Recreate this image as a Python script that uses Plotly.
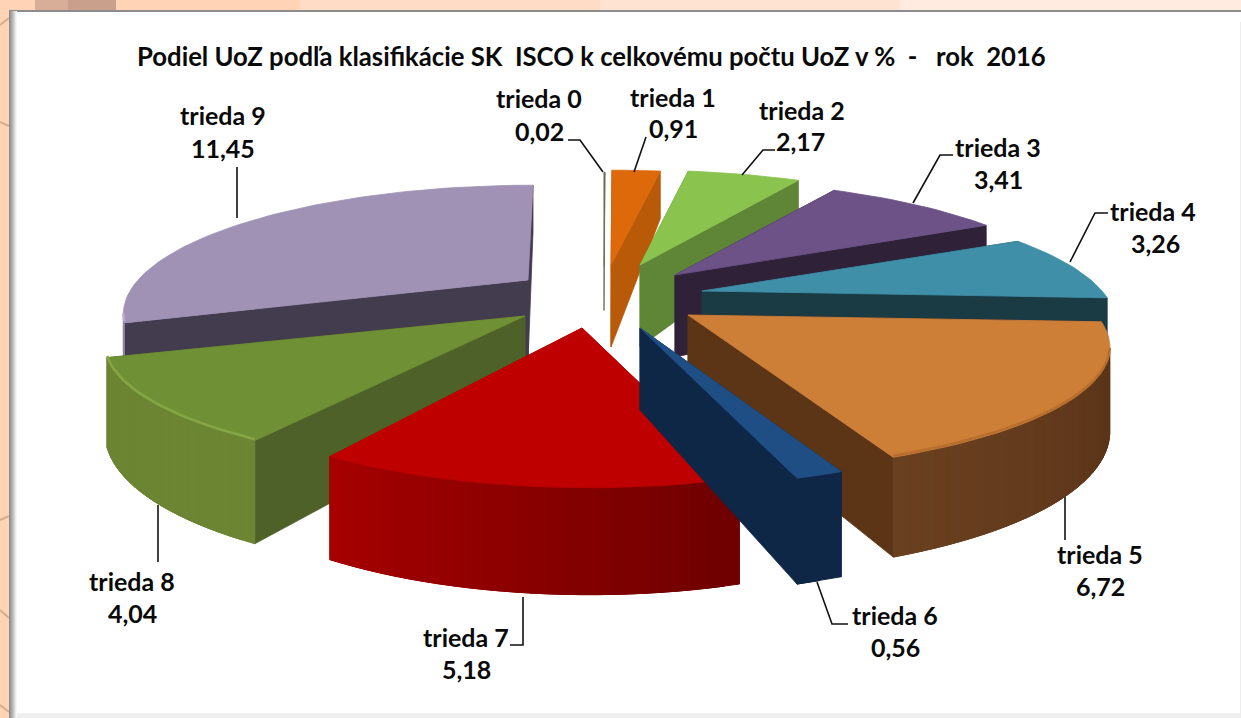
import numpy as np
import plotly.graph_objects as go

classes = ["trieda 0", "trieda 1", "trieda 2", "trieda 3", "trieda 4", "trieda 5", "trieda 6", "trieda 7", "trieda 8", "trieda 9"]
values = [0.02, 0.91, 2.17, 3.41, 3.26, 6.72, 0.56, 5.18, 4.04, 11.45]
top_colors = ["#6A6A55", "#DD690A", "#8BC34F", "#6C5286", "#3F8FA8", "#CD7F38", "#1F4E85", "#BE0000", "#6F9035", "#A092B5"]
wall_colors = ["#55553F", "#B85A08", "#5F8537", "#2E2138", "#1A3A44", "#5C3517", "#0F2747", "#A00000", "#4D6128", "#433C4F"]
rim_a = ["#55553F", "#B85A08", "#5F8537", "#2E2138", "#1A3A44", "#5A3318", "#0F2747", "#6E0000", "#6B8533", "#8F82A6"]
rim_b = ["#55553F", "#B85A08", "#5F8537", "#2E2138", "#1A3A44", "#6A4020", "#0F2747", "#A80000", "#6B8533", "#8F82A6"]
bevel_colors = [None, None, None, None, None, "#B86E2C", None, None, "#86A545", "#B5AAC8"]

# Explosion position of each slice's tip, and its shape factors
tip_x = [604, 611, 640, 675, 702, 688, 640, 582, 525, 528]
tip_y = [267, 265, 265, 275, 291, 315, 328, 328, 316, 280]
x_scale = [1, 1, 0.98, 0.985, 1, 1.02, 1, 0.953, 1.02, 0.975]
y_scale = [1, 1, 1, 1, 1, 0.99, 1, 1, 0.97, 1]
wall_scale = [0.53, 1, 1, 1, 1, 0.95, 1, 1, 1, 1]
skew = [0, 0, 0, 0, 0, 0, 0, -8, -8, 5]
draw_order = [0, 1, 2, 9, 3, 4, 8, 5, 7, 6]

label_x = [539, 673, 802, 998, 1153, 1100, 895, 466, 132, 223]
label_y = [98, 97, 110, 147, 211, 554, 615, 637, 581, 115]
value_x = [539, 673, 800, 998, 1155, 1100, 895, 466, 132, 223]
value_y = [131, 128, 141, 179, 243, 586, 647, 669, 613, 148]

title_text = "Podiel UoZ podľa klasifikácie SK\u00a0\u00a0ISCO k celkovému počtu UoZ v %\u00a0\u00a0-\u00a0\u00a0\u00a0rok\u00a0\u00a02016"

leader_x = [[568, 580, 603], [646, 634], [775, 763, 742], [953, 940, 913], [1108, 1095, 1070],
            [1065, 1065], [848, 832, 817], [510, 523, 523], [158, 158], [237, 237]]
leader_y = [[140, 140, 172], [137, 172], [150, 150, 175], [155, 155, 203], [213, 213, 262],
            [540, 497], [624, 624, 582], [645, 645, 597], [562, 505], [167, 218]]

PERSP = 0.255
BX = 400
BY = 119
FONT = "Lato, 'Open Sans', sans-serif"
FONT_SIZE = 25
TITLE_SIZE = 25.7


def project(i, theta):
    u, v = np.sin(theta), np.cos(theta)
    s = 1 / (1 + PERSP * v)
    return tip_x[i] + BX * x_scale[i] * u * s + skew[i] * v, tip_y[i] - BY * y_scale[i] * v * s, v


def wall_h(i, v):
    return wall_scale[i] * np.interp(v, [-1, 0, 1], [107, 82, 47])


def mix(c1, c2, t):
    a = [int(c1[k:k + 2], 16) for k in (1, 3, 5)]
    b = [int(c2[k:k + 2], 16) for k in (1, 3, 5)]
    return "rgb(%d,%d,%d)" % tuple(round(x + (y - x) * t) for x, y in zip(a, b))


def poly(fig, xs, ys, color, lw=0.8):
    fig.add_trace(go.Scatter(x=list(xs) + [xs[0]], y=list(ys) + [ys[0]], mode="lines", fill="toself",
                             fillcolor=color, line=dict(color=color, width=lw),
                             hoverinfo="skip", showlegend=False))


fig = go.Figure()

total = sum(values)
edges = np.concatenate([[0], np.cumsum(values)]) / total * 2 * np.pi

for i in draw_order:
    t0, t1 = edges[i], edges[i + 1]
    n = max(3, int((t1 - t0) / 0.03))
    th = np.linspace(t0, t1, n)
    X, Y, V = project(i, th)
    H = wall_h(i, V)
    ax, ay = tip_x[i], tip_y[i]
    ah = wall_h(i, 0)
    lw = 0.4 if values[i] < 0.1 else 0.8
    # radial walls
    poly(fig, [ax, X[0], X[0], ax], [ay, Y[0], Y[0] + H[0], ay + ah], wall_colors[i], lw)
    poly(fig, [ax, X[-1], X[-1], ax], [ay, Y[-1], Y[-1] + H[-1], ay + ah], wall_colors[i], lw)
    # outer wall: only the part that faces the viewer, shaded in fine bands
    vis = np.where(V < -PERSP)[0]
    if len(vis) > 1:
        a, b = vis[0], vis[-1]
        for k in range(a, b):
            e = min(k + 2, b)
            poly(fig, list(X[k:e + 1]) + list(X[k:e + 1][::-1]),
                 list(Y[k:e + 1]) + list((Y + H)[k:e + 1][::-1]),
                 mix(rim_a[i], rim_b[i], (k - a) / max(1, b - a)), lw=1)
    # top face
    poly(fig, [ax] + list(X), [ay] + list(Y), top_colors[i], lw)
    # soft bevel along the rim
    if bevel_colors[i] and len(vis) > 1:
        fig.add_trace(go.Scatter(x=X[vis], y=Y[vis] - 1.5, mode="lines", line=dict(color=bevel_colors[i], width=2.5),
                                 hoverinfo="skip", showlegend=False))

shapes = []
# page background behind the panel
shapes.append(dict(type="rect", x0=0, x1=1241, y0=0, y1=718, xref="x", yref="y", layer="below",
                   fillcolor="#FFD3B6", line_width=0))
for x0, x1, c in [(300, 600, "#FFDCC6"), (600, 900, "#FFE3D2"), (900, 1241, "#FFEBDF")]:
    shapes.append(dict(type="rect", x0=x0, x1=x1, y0=0, y1=11, xref="x", yref="y", layer="below", fillcolor=c, line_width=0))
shapes.append(dict(type="rect", x0=35, x1=68, y0=0, y1=11, xref="x", yref="y", layer="below", fillcolor="#D9AE98", line_width=0))
shapes.append(dict(type="rect", x0=68, x1=116, y0=0, y1=11, xref="x", yref="y", layer="below", fillcolor="#C9A08C", line_width=0))
for x0, y0, x1, y1 in [(0, 25, 9, 18), (0, 122, 9, 126), (0, 520, 9, 516), (0, 610, 9, 618), (0, 705, 9, 712)]:
    shapes.append(dict(type="line", x0=x0, y0=y0, x1=x1, y1=y1, xref="x", yref="y", layer="below",
                       line=dict(color="#D9AA8E", width=2)))
# white panel with its bevel
shapes.append(dict(type="rect", x0=9, x1=1241, y0=11, y1=718, xref="x", yref="y", layer="below", fillcolor="#FFFFFF", line_width=0))
shapes.append(dict(type="rect", x0=9, x1=1241, y0=10, y1=12, xref="x", yref="y", layer="below", fillcolor="#8C8C8C", line_width=0))
for k, c in enumerate(["#8C8C8C", "#9A9A9A", "#A8A8A8", "#B6B6B6", "#C6C6C6", "#D8D8D8", "#EAEAEA", "#F6F6F6"]):
    shapes.append(dict(type="rect", x0=9 + k, x1=10 + k, y0=11, y1=718, xref="x", yref="y", layer="below", fillcolor=c, line_width=0))
shapes.append(dict(type="rect", x0=17, x1=1241, y0=713, y1=718, xref="x", yref="y", layer="below", fillcolor="#EFEFEF", line_width=0))
shapes.append(dict(type="rect", x0=1240, x1=1241, y0=22, y1=718, xref="x", yref="y", layer="below", fillcolor="#EDEDED", line_width=0))

annotations = [dict(x=591, y=56, xref="x", yref="y", text="<b>%s</b>" % title_text, showarrow=False,
                    font=dict(family=FONT, size=TITLE_SIZE, color="#0A0A0A"), xanchor="center", yanchor="middle")]
for i, name in enumerate(classes):
    annotations.append(dict(x=label_x[i], y=label_y[i], xref="x", yref="y", text="<b>%s</b>" % name, showarrow=False,
                            font=dict(family=FONT, size=FONT_SIZE, color="#0A0A0A"), xanchor="center", yanchor="middle"))
    annotations.append(dict(x=value_x[i], y=value_y[i], xref="x", yref="y", text="<b>%s</b>" % f"{values[i]:.2f}".replace(".", ","),
                            showarrow=False, font=dict(family=FONT, size=FONT_SIZE, color="#0A0A0A"), xanchor="center", yanchor="middle"))

for lx, ly in zip(leader_x, leader_y):
    fig.add_trace(go.Scatter(x=lx, y=ly, mode="lines", line=dict(color="#111111", width=1.6), hoverinfo="skip", showlegend=False))

fig.update_layout(
    width=1241, height=718, margin=dict(l=0, r=0, t=0, b=0), paper_bgcolor="#FFFFFF", plot_bgcolor="rgba(0,0,0,0)",
    xaxis=dict(range=[0, 1241], visible=False, fixedrange=True),
    yaxis=dict(range=[718, 0], visible=False, fixedrange=True),
    shapes=shapes, annotations=annotations, showlegend=False,
)
fig.write_html("out.html", config=dict(displayModeBar=False),
               post_script="document.body.style.margin='0';document.body.style.overflow='hidden';")
